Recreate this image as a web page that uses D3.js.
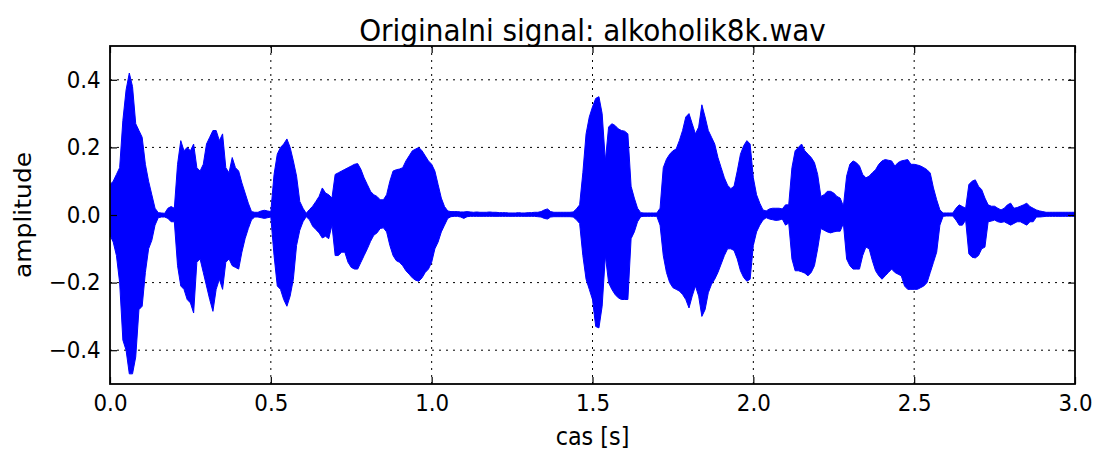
<!DOCTYPE html>
<html>
<head>
<meta charset="utf-8">
<script src="https://cdn.jsdelivr.net/npm/d3@7"></script>
<style>
  body { margin: 0; background: #fff; }
  text { font-family: "DejaVu Sans", sans-serif; fill: #000; }
</style>
</head>
<body>
<script>
// envelope of the waveform, one value every 10 ms (0.00 .. 3.00 s)
const upper = [
  0.09, 0.10, 0.12, 0.14, 0.28, 0.37, 0.42, 0.38, 0.27, 0.25,
  0.23, 0.15, 0.10, 0.06, 0.02, 0.007, 0.006, 0.005, 0.02, 0.025,
  0.02, 0.15, 0.22, 0.19, 0.20, 0.19, 0.21, 0.14, 0.13, 0.15,
  0.21, 0.23, 0.25, 0.25, 0.22, 0.24, 0.14, 0.125, 0.17, 0.14,
  0.13, 0.095, 0.065, 0.035, 0.01, 0.008, 0.008, 0.012, 0.014, 0.012,
  0.01, 0.12, 0.18, 0.20, 0.21, 0.225, 0.20, 0.16, 0.115, 0.04,
  0.02, 0.005, 0.016, 0.026, 0.04, 0.055, 0.08, 0.065, 0.06, 0.05,
  0.12, 0.125, 0.13, 0.135, 0.14, 0.145, 0.15, 0.152, 0.135, 0.11,
  0.09, 0.07, 0.06, 0.055, 0.045, 0.045, 0.06, 0.10, 0.13, 0.134,
  0.136, 0.14, 0.16, 0.175, 0.19, 0.195, 0.20, 0.19, 0.175, 0.16,
  0.15, 0.13, 0.09, 0.05, 0.025, 0.012, 0.01, 0.01, 0.01, 0.009,
  0.009, 0.01, 0.009, 0.008, 0.009, 0.008, 0.008, 0.008, 0.009, 0.008,
  0.008, 0.007, 0.007, 0.007, 0.006, 0.006, 0.006, 0.007, 0.006, 0.006,
  0.007, 0.007, 0.008, 0.008, 0.01, 0.015, 0.018, 0.01, 0.008, 0.008,
  0.008, 0.008, 0.008, 0.008, 0.009, 0.018, 0.03, 0.125, 0.24, 0.29,
  0.32, 0.345, 0.35, 0.30, 0.16, 0.26, 0.27, 0.265, 0.255, 0.25,
  0.248, 0.24, 0.085, 0.05, 0.02, 0.007, 0.006, 0.006, 0.006, 0.006,
  0.006, 0.02, 0.14, 0.165, 0.18, 0.19, 0.195, 0.22, 0.25, 0.29,
  0.30, 0.27, 0.24, 0.26, 0.326, 0.29, 0.25, 0.23, 0.21, 0.17,
  0.14, 0.11, 0.088, 0.078, 0.085, 0.13, 0.18, 0.205, 0.22, 0.21,
  0.11, 0.06, 0.035, 0.015, 0.012, 0.018, 0.02, 0.02, 0.02, 0.018,
  0.03, 0.03, 0.14, 0.19, 0.20, 0.21, 0.19, 0.18, 0.17, 0.155,
  0.12, 0.055, 0.06, 0.07, 0.07, 0.065, 0.055, 0.05, 0.026, 0.115,
  0.15, 0.16, 0.155, 0.145, 0.12, 0.11, 0.115, 0.125, 0.134, 0.15,
  0.16, 0.164, 0.162, 0.16, 0.145, 0.155, 0.16, 0.162, 0.164, 0.15,
  0.15, 0.148, 0.145, 0.14, 0.134, 0.124, 0.08, 0.045, 0.015, 0.006,
  0.006, 0.006, 0.006, 0.02, 0.03, 0.025, 0.02, 0.09, 0.10, 0.104,
  0.085, 0.075, 0.05, 0.03, 0.026, 0.026, 0.02, 0.015, 0.02, 0.03,
  0.035, 0.02, 0.022, 0.026, 0.03, 0.035, 0.025, 0.02, 0.015, 0.012,
  0.01, 0.008, 0.008, 0.008, 0.008, 0.008, 0.008, 0.008, 0.008, 0.008,
  0.008
];

const lower = [
  -0.06, -0.08, -0.12, -0.20, -0.37, -0.40, -0.47, -0.47, -0.42, -0.28,
  -0.27, -0.17, -0.10, -0.075, -0.03, -0.008, -0.006, -0.006, -0.01, -0.02,
  -0.02, -0.15, -0.21, -0.22, -0.25, -0.26, -0.29, -0.14, -0.13, -0.17,
  -0.21, -0.25, -0.285, -0.22, -0.19, -0.22, -0.14, -0.13, -0.15, -0.155,
  -0.16, -0.11, -0.07, -0.04, -0.014, -0.006, -0.006, -0.008, -0.01, -0.008,
  -0.006, -0.12, -0.21, -0.22, -0.25, -0.27, -0.24, -0.19, -0.09, -0.045,
  -0.02, -0.005, -0.014, -0.033, -0.043, -0.053, -0.068, -0.063, -0.07, -0.03,
  -0.12, -0.12, -0.11, -0.11, -0.14, -0.155, -0.16, -0.16, -0.14, -0.12,
  -0.10, -0.078, -0.06, -0.053, -0.04, -0.038, -0.05, -0.09, -0.12, -0.135,
  -0.14, -0.15, -0.165, -0.175, -0.186, -0.193, -0.196, -0.186, -0.17, -0.16,
  -0.14, -0.10, -0.08, -0.05, -0.03, -0.01, -0.005, -0.004, -0.004, -0.006,
  -0.01, -0.005, -0.004, -0.004, -0.004, -0.004, -0.004, -0.004, -0.004, -0.004,
  -0.004, -0.004, -0.004, -0.004, -0.004, -0.004, -0.004, -0.004, -0.004, -0.004,
  -0.004, -0.004, -0.004, -0.005, -0.006, -0.01, -0.012, -0.006, -0.005, -0.005,
  -0.005, -0.005, -0.005, -0.005, -0.006, -0.014, -0.025, -0.12, -0.19, -0.22,
  -0.25, -0.33, -0.334, -0.27, -0.12, -0.20, -0.22, -0.235, -0.245, -0.25,
  -0.25, -0.25, -0.07, -0.05, -0.02, -0.005, -0.004, -0.004, -0.004, -0.004,
  -0.004, -0.03, -0.12, -0.17, -0.20, -0.215, -0.22, -0.225, -0.235, -0.25,
  -0.275, -0.24, -0.21, -0.24, -0.30, -0.28, -0.23, -0.205, -0.19, -0.17,
  -0.145, -0.12, -0.10, -0.10, -0.105, -0.13, -0.165, -0.185, -0.196, -0.19,
  -0.09, -0.05, -0.03, -0.015, -0.008, -0.012, -0.014, -0.016, -0.015, -0.012,
  -0.03, -0.024, -0.13, -0.165, -0.165, -0.168, -0.172, -0.18, -0.17, -0.15,
  -0.10, -0.04, -0.045, -0.05, -0.053, -0.05, -0.048, -0.048, -0.025, -0.13,
  -0.15, -0.16, -0.16, -0.16, -0.12, -0.095, -0.10, -0.135, -0.165, -0.18,
  -0.19, -0.18, -0.17, -0.16, -0.17, -0.175, -0.18, -0.21, -0.22, -0.22,
  -0.22, -0.22, -0.215, -0.21, -0.20, -0.17, -0.14, -0.11, -0.03, -0.004,
  -0.003, -0.003, -0.003, -0.015, -0.03, -0.03, -0.015, -0.115, -0.125, -0.127,
  -0.12, -0.10, -0.095, -0.02, -0.018, -0.015, -0.02, -0.022, -0.02, -0.025,
  -0.03, -0.025, -0.02, -0.02, -0.025, -0.03, -0.02, -0.02, -0.006, -0.006,
  -0.005, -0.004, -0.004, -0.004, -0.004, -0.004, -0.004, -0.004, -0.004, -0.004,
  -0.004
];

const times = upper.map((_, i) => i / 100);
const xTicks = [0, 0.5, 1.0, 1.5, 2.0, 2.5, 3.0];
const yTicks = [-0.4, -0.2, 0.0, 0.2, 0.4];

const svgWidth = 1093;
const svgHeight = 450;
const margin = { top: 46, right: 18, bottom: 66, left: 110 };
const width = svgWidth - margin.left - margin.right;
const height = svgHeight - margin.top - margin.bottom;

const svg = d3.select('body')
  .append('svg')
  .attr('width', svgWidth)
  .attr('height', svgHeight);

const g = svg.append('g')
  .attr('transform', `translate(${margin.left}, ${margin.top})`);

const x = d3.scaleLinear().domain([0, 3]).range([0, width]);
const y = d3.scaleLinear().domain([-0.5, 0.5]).range([height, 0]);

const fmt = d3.format('.1f');

// dotted grid
const grid = g.append('g').attr('class', 'grid')
  .attr('stroke', '#000')
  .attr('stroke-width', 1)
  .attr('stroke-dasharray', '2,5');

grid.selectAll('.gx')
  .data(xTicks.slice(1, -1))
  .enter().append('line')
  .attr('x1', d => x(d)).attr('x2', d => x(d))
  .attr('y1', 0).attr('y2', height);

grid.selectAll('.gy')
  .data(yTicks)
  .enter().append('line')
  .attr('x1', 0).attr('x2', width)
  .attr('y1', d => y(d)).attr('y2', d => y(d));

// waveform
svg.append('defs').append('clipPath').attr('id', 'clip')
  .append('rect').attr('width', width).attr('height', height);

const area = d3.area()
  .x((d, i) => x(times[i]))
  .y0((d, i) => y(lower[i]))
  .y1((d, i) => y(upper[i]));

g.append('path')
  .datum(upper)
  .attr('clip-path', 'url(#clip)')
  .attr('d', area)
  .attr('fill', '#0000ff')
  .attr('stroke', '#0000ff')
  .attr('stroke-width', 1);

// axes, ticks pointing inwards on all four sides
const tickLen = 7;

g.append('g')
  .attr('class', 'axis axis--x')
  .attr('transform', `translate(0, ${height})`)
  .call(d3.axisBottom(x).tickValues(xTicks).tickFormat(fmt).tickSizeInner(-tickLen).tickSizeOuter(0).tickPadding(11));

g.append('g')
  .attr('class', 'axis axis--y')
  .call(d3.axisLeft(y).tickValues(yTicks).tickFormat(fmt).tickSizeInner(-tickLen).tickSizeOuter(0).tickPadding(10));

g.append('g')
  .attr('transform', `translate(${width}, 0)`)
  .call(d3.axisRight(y).tickValues(yTicks).tickFormat('').tickSizeInner(-tickLen).tickSizeOuter(0));

g.append('g')
  .call(d3.axisTop(x).tickValues(xTicks).tickFormat('').tickSizeInner(-tickLen).tickSizeOuter(0));

g.selectAll('.axis text')
  .attr('font-size', 23)
  .attr('font-family', '"DejaVu Sans", sans-serif')
  .attr('fill', '#000')
  .attr('transform', 'scale(0.93,1)');

g.selectAll('.tick line').attr('stroke', '#000').attr('stroke-width', 1.2);
g.selectAll('.domain').remove();

g.append('rect')
  .attr('width', width)
  .attr('height', height)
  .attr('fill', 'none')
  .attr('stroke', '#000')
  .attr('stroke-width', 1.8);

// title and labels
svg.append('text')
  .attr('transform', `translate(${margin.left + width / 2}, 41) scale(0.93,1)`)
  .attr('text-anchor', 'middle')
  .attr('font-size', 30)
  .text('Originalni signal: alkoholik8k.wav');

svg.append('text')
  .attr('transform', `translate(${margin.left + width / 2}, 445) scale(0.93,1)`)
  .attr('text-anchor', 'middle')
  .attr('font-size', 24)
  .text('cas [s]');

svg.append('text')
  .attr('transform', `translate(31, ${margin.top + height / 2}) rotate(-90) scale(1,0.93)`)
  .attr('text-anchor', 'middle')
  .attr('font-size', 25)
  .text('amplitude');
</script>
</body>
</html>
